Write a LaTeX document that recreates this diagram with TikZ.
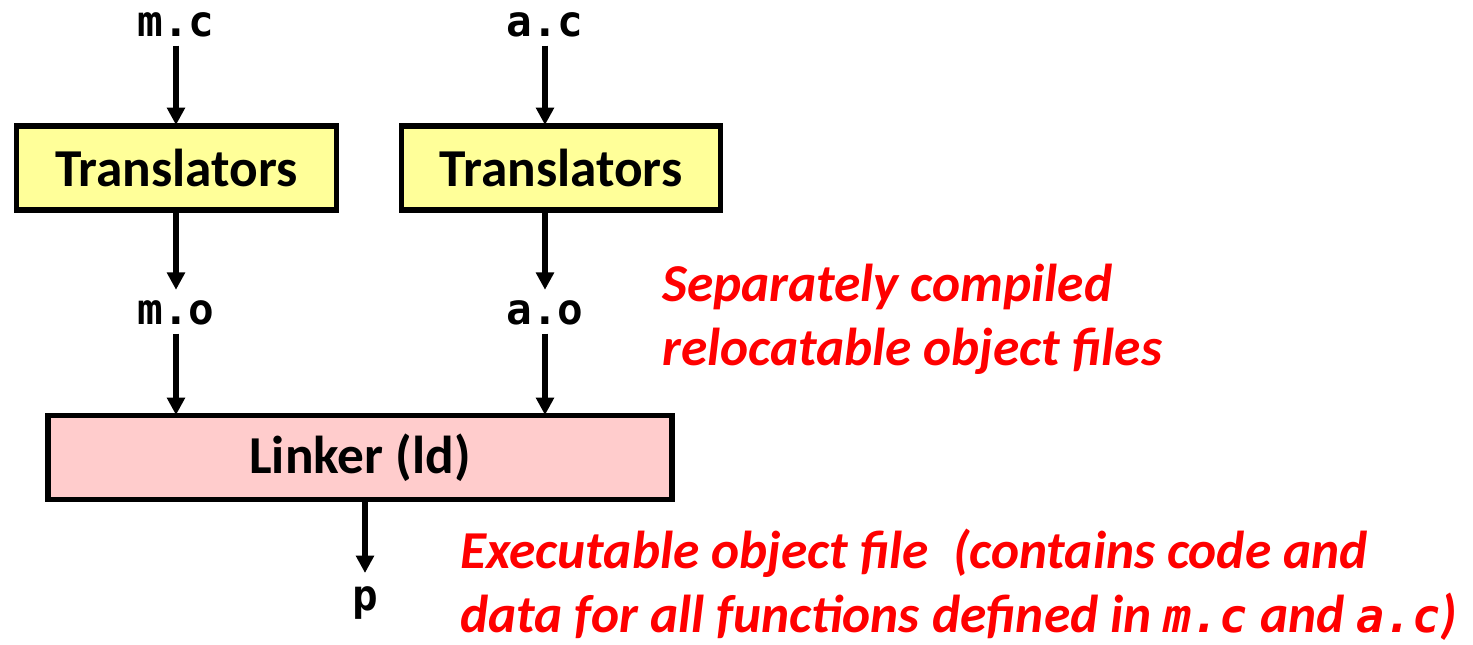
\documentclass[tikz,border=0pt]{standalone}
\usepackage{fontspec}
\setmainfont{Carlito}
\newfontfamily\codefont{DejaVu Sans Mono}
\usetikzlibrary{arrows.meta}
\definecolor{boxyellow}{HTML}{FFFF99}
\definecolor{boxpink}{HTML}{FFCCCC}
\definecolor{notered}{HTML}{FF0000}
\newcommand{\inlinecode}[1]{{\codefont\bfseries\itshape\fontsize{35}{48}\selectfont #1}}
\begin{document}
\begin{tikzpicture}[x=0.75pt,y=-0.75pt,
  box/.style={draw=black,line width=4pt,inner sep=0pt,font=\bfseries\fontsize{40}{40}\selectfont},
  file/.style={font=\codefont\bfseries\fontsize{32}{32}\selectfont,inner sep=0pt},
  flow/.style={line width=4pt,-{Triangle[width=13pt,length=13pt]}},
  note/.style={text=notered,font=\bfseries\itshape\fontsize{40}{48}\selectfont,anchor=west,align=left,inner sep=0pt}]
\useasboundingbox (0,0) rectangle (1473,644);
\node[file] (mc) at (176,25) {m.c};
\node[file] (ac) at (545,25) {a.c};
\node[box,fill=boxyellow,minimum width=320*0.75pt,minimum height=84*0.75pt] (t1) at (176.5,168) {Translators};
\node[box,fill=boxyellow,minimum width=319*0.75pt,minimum height=84*0.75pt] (t2) at (561,168) {Translators};
\node[file] (mo) at (176,313) {m.o};
\node[file] (ao) at (545,313) {a.o};
\node[box,fill=boxpink,minimum width=624*0.75pt,minimum height=84*0.75pt] (ld) at (360,457.5) {Linker (ld)};
\node[file] (p) at (365,603) {p};
\coordinate (t1top) at (176,125);
\coordinate (t2top) at (545,125);
\coordinate (t1bot) at (176,211);
\coordinate (t2bot) at (545,211);
\coordinate (ldm) at (176,415);
\coordinate (lda) at (545,415);
\coordinate (ldp) at (365,500);
\draw[flow] ([yshift=-6pt]mc.south) -- (t1top);
\draw[flow] ([yshift=-6pt]ac.south) -- (t2top);
\draw[flow] (t1bot) -- ([yshift=8pt]mo.north);
\draw[flow] (t2bot) -- ([yshift=8pt]ao.north);
\draw[flow] ([yshift=-6pt]mo.south) -- (ldm);
\draw[flow] ([yshift=-6pt]ao.south) -- (lda);
\draw[flow] (ldp) -- ([yshift=10pt]p.north);
\node[note] (n1) at (662,319) {Separately compiled\\relocatable object files};
\node[note] (n2) at (460,585) {Executable object file\ \ (contains code and\\data for all functions defined in \inlinecode{m.c} and \inlinecode{a.c})};
\end{tikzpicture}
\end{document}
